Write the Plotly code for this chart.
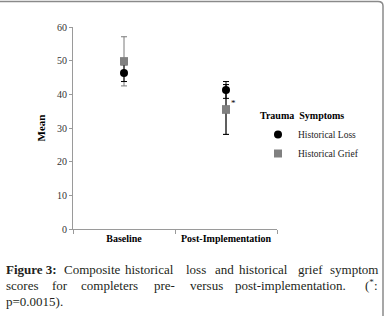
import plotly.graph_objects as go

categories = ["Baseline", "Post-Implementation"]
loss_mean = [46.3, 41.3]
loss_err = [2.5, 2.5]
grief_mean = [49.8, 35.5]
grief_err = [7.3, 7.4]
y_ticks = [0, 10, 20, 30, 40, 50, 60]

W, H = 385, 316
L, R, T, B = 73, 108, 27, 87
pw, ph = W - L - R, H - T - B

def px(x):
    return (x - L) / pw

def py(y):
    return (H - B - y) / ph

SERIF = "Liberation Serif, Times New Roman, serif"
fig = go.Figure()

fig.add_trace(go.Scatter(
    x=categories, y=grief_mean, mode="markers", name="Historical Grief",
    marker=dict(symbol="square", size=8, color="#808080"),
    error_y=dict(type="data", array=grief_err, color="#7a7a7a", thickness=1, width=3),
    showlegend=False))
# darker bar for post-implementation grief (drawn over)
fig.add_trace(go.Scatter(
    x=categories[1:], y=grief_mean[1:], mode="markers", name="Historical Grief",
    marker=dict(symbol="square", size=8, color="#808080"),
    error_y=dict(type="data", array=grief_err[1:], color="#000000", thickness=1, width=3),
    showlegend=False))
fig.add_trace(go.Scatter(
    x=categories, y=loss_mean, mode="markers", name="Historical Loss",
    marker=dict(symbol="circle", size=8, color="#000000"),
    error_y=dict(type="data", array=loss_err, color="#000000", thickness=1, width=3)))
fig.add_trace(go.Scatter(
    x=categories, y=grief_mean, mode="markers", name="Historical Grief",
    marker=dict(symbol="square", size=8, color="#808080")))

annotations = [
    dict(x=categories[1], y=grief_mean[1] + 1.8, xref="x", yref="y", text="*",
         showarrow=False, xshift=7, font=dict(family=SERIF, size=9, color="#000")),
    dict(x=px(302), y=py(116), xref="paper", yref="paper", text="<b>Trauma  Symptoms</b>",
         showarrow=False, xanchor="center", yanchor="middle",
         font=dict(family=SERIF, size=10, color="#000")),
]

cap_font = dict(family=SERIF, size=13, color="#231f20")
line1 = [("<b>Figure 3:</b>", 4), ("Composite", 62), ("historical", 123), ("loss", 184),
         ("and", 213), ("historical", 237), ("grief", 296), ("symptom", 328)]
line2 = [("scores", 4), ("for", 50), ("completers", 79), ("pre-", 152), ("versus", 188),
         ("post-implementation.", 233), ("(<sup>*</sup>:", 363)]
line3 = [("p=0.0015).", 4)]
for words, yy in [(line1, 269), (line2, 285), (line3, 301)]:
    for w, xx in words:
        annotations.append(dict(x=px(xx), y=py(yy), xref="paper", yref="paper", text=w,
                                showarrow=False, xanchor="left", yanchor="middle",
                                font=cap_font))

shapes = [dict(type="path", xref="paper", yref="paper",
               path=f"M {px(0)},{py(1.5)} L {px(378)},{py(1.5)} Q {px(383)},{py(1.5)} {px(383)},{py(6)} L {px(383)},{py(316)}",
               line=dict(color="#8a8a8a", width=1.5))]

fig.update_layout(
    width=W, height=H, margin=dict(l=L, r=R, t=T, b=B),
    paper_bgcolor="white", plot_bgcolor="white",
    annotations=annotations, shapes=shapes,
    legend=dict(x=px(258), y=py(120), xanchor="left", yanchor="top",
                font=dict(family=SERIF, size=9.5, color="#222"),
                bgcolor="rgba(0,0,0,0)", itemwidth=30, tracegroupgap=6,
                traceorder="normal"),
    xaxis=dict(type="category", range=[-0.5, 1.5], showline=True, linecolor="#9a9a9a",
               linewidth=1, ticks="outside", tickson="boundaries", ticklen=4,
               tickcolor="#9a9a9a", showgrid=False, zeroline=False,
               tickfont=dict(family=SERIF, size=10, color="#000"),
               tickprefix="<b>", ticksuffix="</b>"),
    yaxis=dict(range=[0, 60], tickvals=y_ticks, showline=True, linecolor="#9a9a9a",
               linewidth=1, ticks="outside", ticklen=3, tickcolor="#9a9a9a",
               showgrid=False, zeroline=False,
               tickfont=dict(family=SERIF, size=10, color="#333"),
               title=dict(text="<b>Mean</b>", font=dict(family=SERIF, size=11, color="#000"),
                          standoff=9)),
)
fig.write_html("out.html", config={"displayModeBar": False},
               post_script="document.body.style.margin='0';")
